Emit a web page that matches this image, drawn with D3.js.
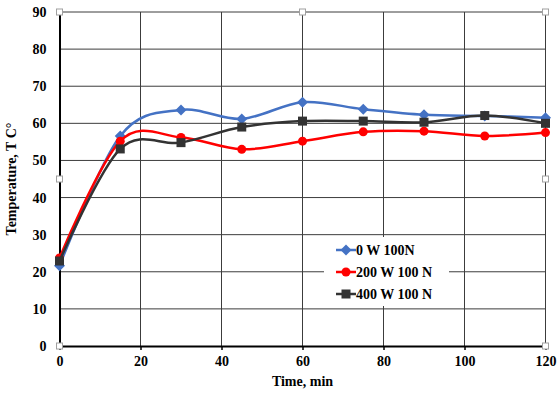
<!DOCTYPE html>
<html>
<head>
<meta charset="utf-8">
<script src="https://cdn.jsdelivr.net/npm/d3@7"></script>
<style>
  body { margin: 0; background: #fff; }
  text { font-family: "Liberation Serif", "Times New Roman", serif; font-weight: bold; }
</style>
</head>
<body>
<div id="chart"></div>
<script>
// time points (min)
const times = [0, 15, 30, 45, 60, 75, 90, 105, 120];
// temperatures per series
const temp0W = [21.6, 56.6, 63.6, 61.2, 65.7, 63.8, 62.3, 62.0, 61.5];
const temp200W = [23.7, 55.2, 56.2, 53.0, 55.2, 57.7, 57.9, 56.6, 57.5];
const temp400W = [22.9, 53.1, 54.8, 59.0, 60.6, 60.6, 60.3, 62.1, 60.0];
const seriesNames = ["0 W 100N", "200 W 100 N", "400 W 100 N"];
const seriesColors = ["#4472c4", "#ff0000", "#333333"];
const seriesShapes = ["diamond", "circle", "square"];
const xTicks = [0, 20, 40, 60, 80, 100, 120];
const yTicks = [0, 10, 20, 30, 40, 50, 60, 70, 80, 90];

const W = 557, H = 394;
const margin = { top: 12, right: 11.5, bottom: 48, left: 59.5 };
const width = W - margin.left - margin.right;
const height = H - margin.top - margin.bottom;

const svg = d3.select("#chart").append("svg")
    .attr("width", W).attr("height", H);
const g = svg.append("g")
    .attr("transform", "translate(" + margin.left + "," + margin.top + ")");

const x = d3.scaleLinear().domain([0, 120]).range([0, width]);
const y = d3.scaleLinear().domain([0, 90]).range([height, 0]);

// gridlines
g.append("g").selectAll("line").data(yTicks.filter(d => d > 0)).join("line")
    .attr("x1", 0).attr("x2", width)
    .attr("y1", d => y(d)).attr("y2", d => y(d))
    .attr("stroke", "#3c3c3c").attr("stroke-width", 1);
g.append("g").selectAll("line").data(xTicks.filter(d => d > 0)).join("line")
    .attr("x1", d => x(d)).attr("x2", d => x(d))
    .attr("y1", 0).attr("y2", height)
    .attr("stroke", "#3c3c3c").attr("stroke-width", 1);

// axes
const xAxis = g.append("g").attr("transform", "translate(0," + height + ")")
    .call(d3.axisBottom(x).tickValues(xTicks).tickSize(4).tickPadding(6).tickSizeOuter(0));
const yAxis = g.append("g")
    .call(d3.axisLeft(y).tickValues(yTicks).tickSize(0).tickPadding(13).tickSizeOuter(0));
[xAxis, yAxis].forEach(a => {
    a.select(".domain").attr("stroke", "#000").attr("stroke-width", 2);
    a.selectAll(".tick line").attr("stroke", "#000").attr("stroke-width", 1.5);
    a.selectAll("text").attr("fill", "#000").style("font-size", "14px")
        .style("font-family", "Liberation Serif").style("font-weight", "bold");
});

// axis titles
g.append("text").attr("x", width / 2).attr("y", height + 40)
    .attr("text-anchor", "middle").style("font-size", "14px").text("Time, min");
g.append("text").attr("transform", "translate(-44," + (height / 2) + ") rotate(-90)")
    .attr("text-anchor", "middle").style("font-size", "14px").text("Temperature, T C°");

// series
const allSeries = [temp0W, temp200W, temp400W];
const lineGen = d3.line()
    .x((d, i) => x(times[i]))
    .y(d => y(d))
    .curve(d3.curveCardinal.tension(0));

function drawMarker(sel, shape, color) {
    if (shape === "diamond") {
        sel.append("path").attr("d", "M0,-5.5L5.5,0L0,5.5L-5.5,0Z").attr("fill", color);
    } else if (shape === "circle") {
        sel.append("circle").attr("r", 4.5).attr("fill", color);
    } else {
        sel.append("rect").attr("x", -4.5).attr("y", -4.5).attr("width", 9).attr("height", 9).attr("fill", color);
    }
}

allSeries.forEach((vals, k) => {
    g.append("path").datum(vals)
        .attr("fill", "none").attr("stroke", seriesColors[k])
        .attr("stroke-width", 2.5).attr("d", lineGen);
    g.append("g").selectAll("g").data(vals).join("g")
        .attr("transform", (d, i) => "translate(" + x(times[i]) + "," + y(d) + ")")
        .each(function () { drawMarker(d3.select(this), seriesShapes[k], seriesColors[k]); });
});

// legend
const leg = svg.append("g").attr("transform", "translate(324,237)");
leg.append("rect").attr("width", 125).attr("height", 69).attr("fill", "#fff");
seriesNames.forEach((name, k) => {
    const row = leg.append("g").attr("transform", "translate(12," + (13 + k * 22) + ")");
    row.append("line").attr("x1", 0).attr("x2", 20).attr("stroke", seriesColors[k]).attr("stroke-width", 2.5);
    drawMarker(row.append("g").attr("transform", "translate(10,0)"), seriesShapes[k], seriesColors[k]);
    row.append("text").attr("x", 20).attr("y", 5).style("font-size", "14px").text(name);
});

// selection handles
const handles = [[0, 90], [60, 90], [120, 90], [0, 45], [120, 45], [0, 0], [120, 0]];
g.append("g").selectAll("rect").data(handles).join("rect")
    .attr("x", d => x(d[0]) - 3).attr("y", d => y(d[1]) - 3)
    .attr("width", 6).attr("height", 6)
    .attr("fill", "#fff").attr("stroke", "#a0a0a0").attr("stroke-width", 1);
</script>
</body>
</html>
